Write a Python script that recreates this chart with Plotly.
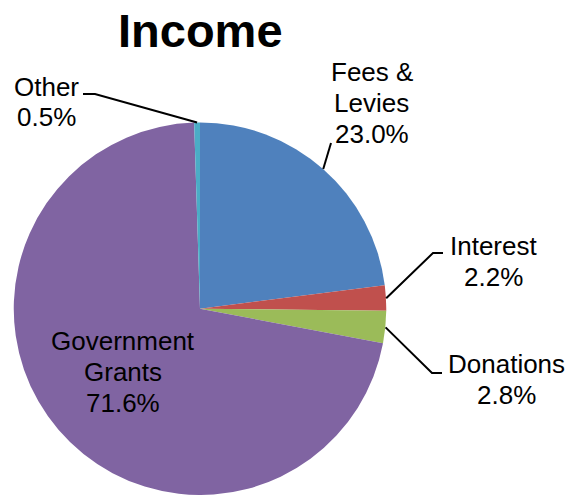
import math
import plotly.graph_objects as go

# ---- data ----
categories = ["Fees &<br>Levies", "Interest", "Donations", "Government<br>Grants", "Other"]
values = [23.0, 2.2, 2.8, 71.6, 0.5]
colors = ["#4F81BD", "#C0504D", "#9BBB59", "#8064A2", "#4BACC6"]
title_text = "Income"

# ---- layout geometry (pixels) ----
W, H = 569, 495
CX, CY, R = 200, 309, 186.5
FONT = "Liberation Sans, Arial, sans-serif"
LINE_H = 31


def px(x):
    return x / W


def py(y):
    return 1 - y / H


total = sum(values)
mid_angles = []
cum = 0.0
for v in values:
    mid_angles.append((cum + v / 2) / total * 2 * math.pi)
    cum += v


def edge_point(i, r=R):
    a = mid_angles[i]
    return CX + r * math.sin(a), CY - r * math.cos(a)


fig = go.Figure(go.Pie(
    labels=[c.replace("<br>", " ") for c in categories],
    values=values,
    sort=False,
    direction="clockwise",
    rotation=0,
    marker=dict(colors=colors, line=dict(width=0)),
    textinfo="none",
    hoverinfo="label+percent",
    showlegend=False,
    domain=dict(x=[px(CX - R), px(CX + R)], y=[max(0, py(CY + R)), py(CY - R)]),
))

# label placements (pixel centers of the text block) and leader-line elbows
label_pos = {
    0: (372, 103),
    1: (493, 261),
    2: (506, 379),
    3: (123, 372),
    4: (46, 102),
}
elbows = {
    0: [(331, 143)],
    1: [(433, 253), (443, 253)],
    2: [(432, 373), (442, 373)],
    4: [(95, 94), (83, 94)],
}

annotations = []
for i, (lab, v) in enumerate(zip(categories, values)):
    x, y = label_pos[i]
    lines = lab.split("<br>") + [f"{v:.1f}%"]
    n = len(lines)
    for k, line in enumerate(lines):
        ly = y + (k - (n - 1) / 2) * LINE_H
        annotations.append(dict(
            x=px(x), y=py(ly), xref="paper", yref="paper",
            text=line, showarrow=False,
            font=dict(family=FONT, size=26, color="#000000"),
            align="center", xanchor="center", yanchor="middle",
        ))

shapes = []
for i, pts in elbows.items():
    sx, sy = edge_point(i)
    path = f"M {px(sx)} {py(sy)}"
    for (ex, ey) in pts:
        path += f" L {px(ex)} {py(ey)}"
    shapes.append(dict(type="path", path=path, xref="paper", yref="paper",
                       line=dict(color="#000000", width=2)))

annotations.append(dict(
    x=px(CX), y=py(31), xref="paper", yref="paper",
    text=f"<b>{title_text}</b>", showarrow=False,
    font=dict(family=FONT, size=47, color="#000000"),
    xanchor="center", yanchor="middle",
))

fig.update_layout(
    width=W, height=H,
    margin=dict(l=0, r=0, t=0, b=0),
    paper_bgcolor="#FFFFFF",
    plot_bgcolor="#FFFFFF",
    annotations=annotations,
    shapes=shapes,
)

fig.write_html(
    "out.html",
    config={"displayModeBar": False},
    post_script="document.body.style.margin='0';document.body.style.overflow='hidden';",
)
